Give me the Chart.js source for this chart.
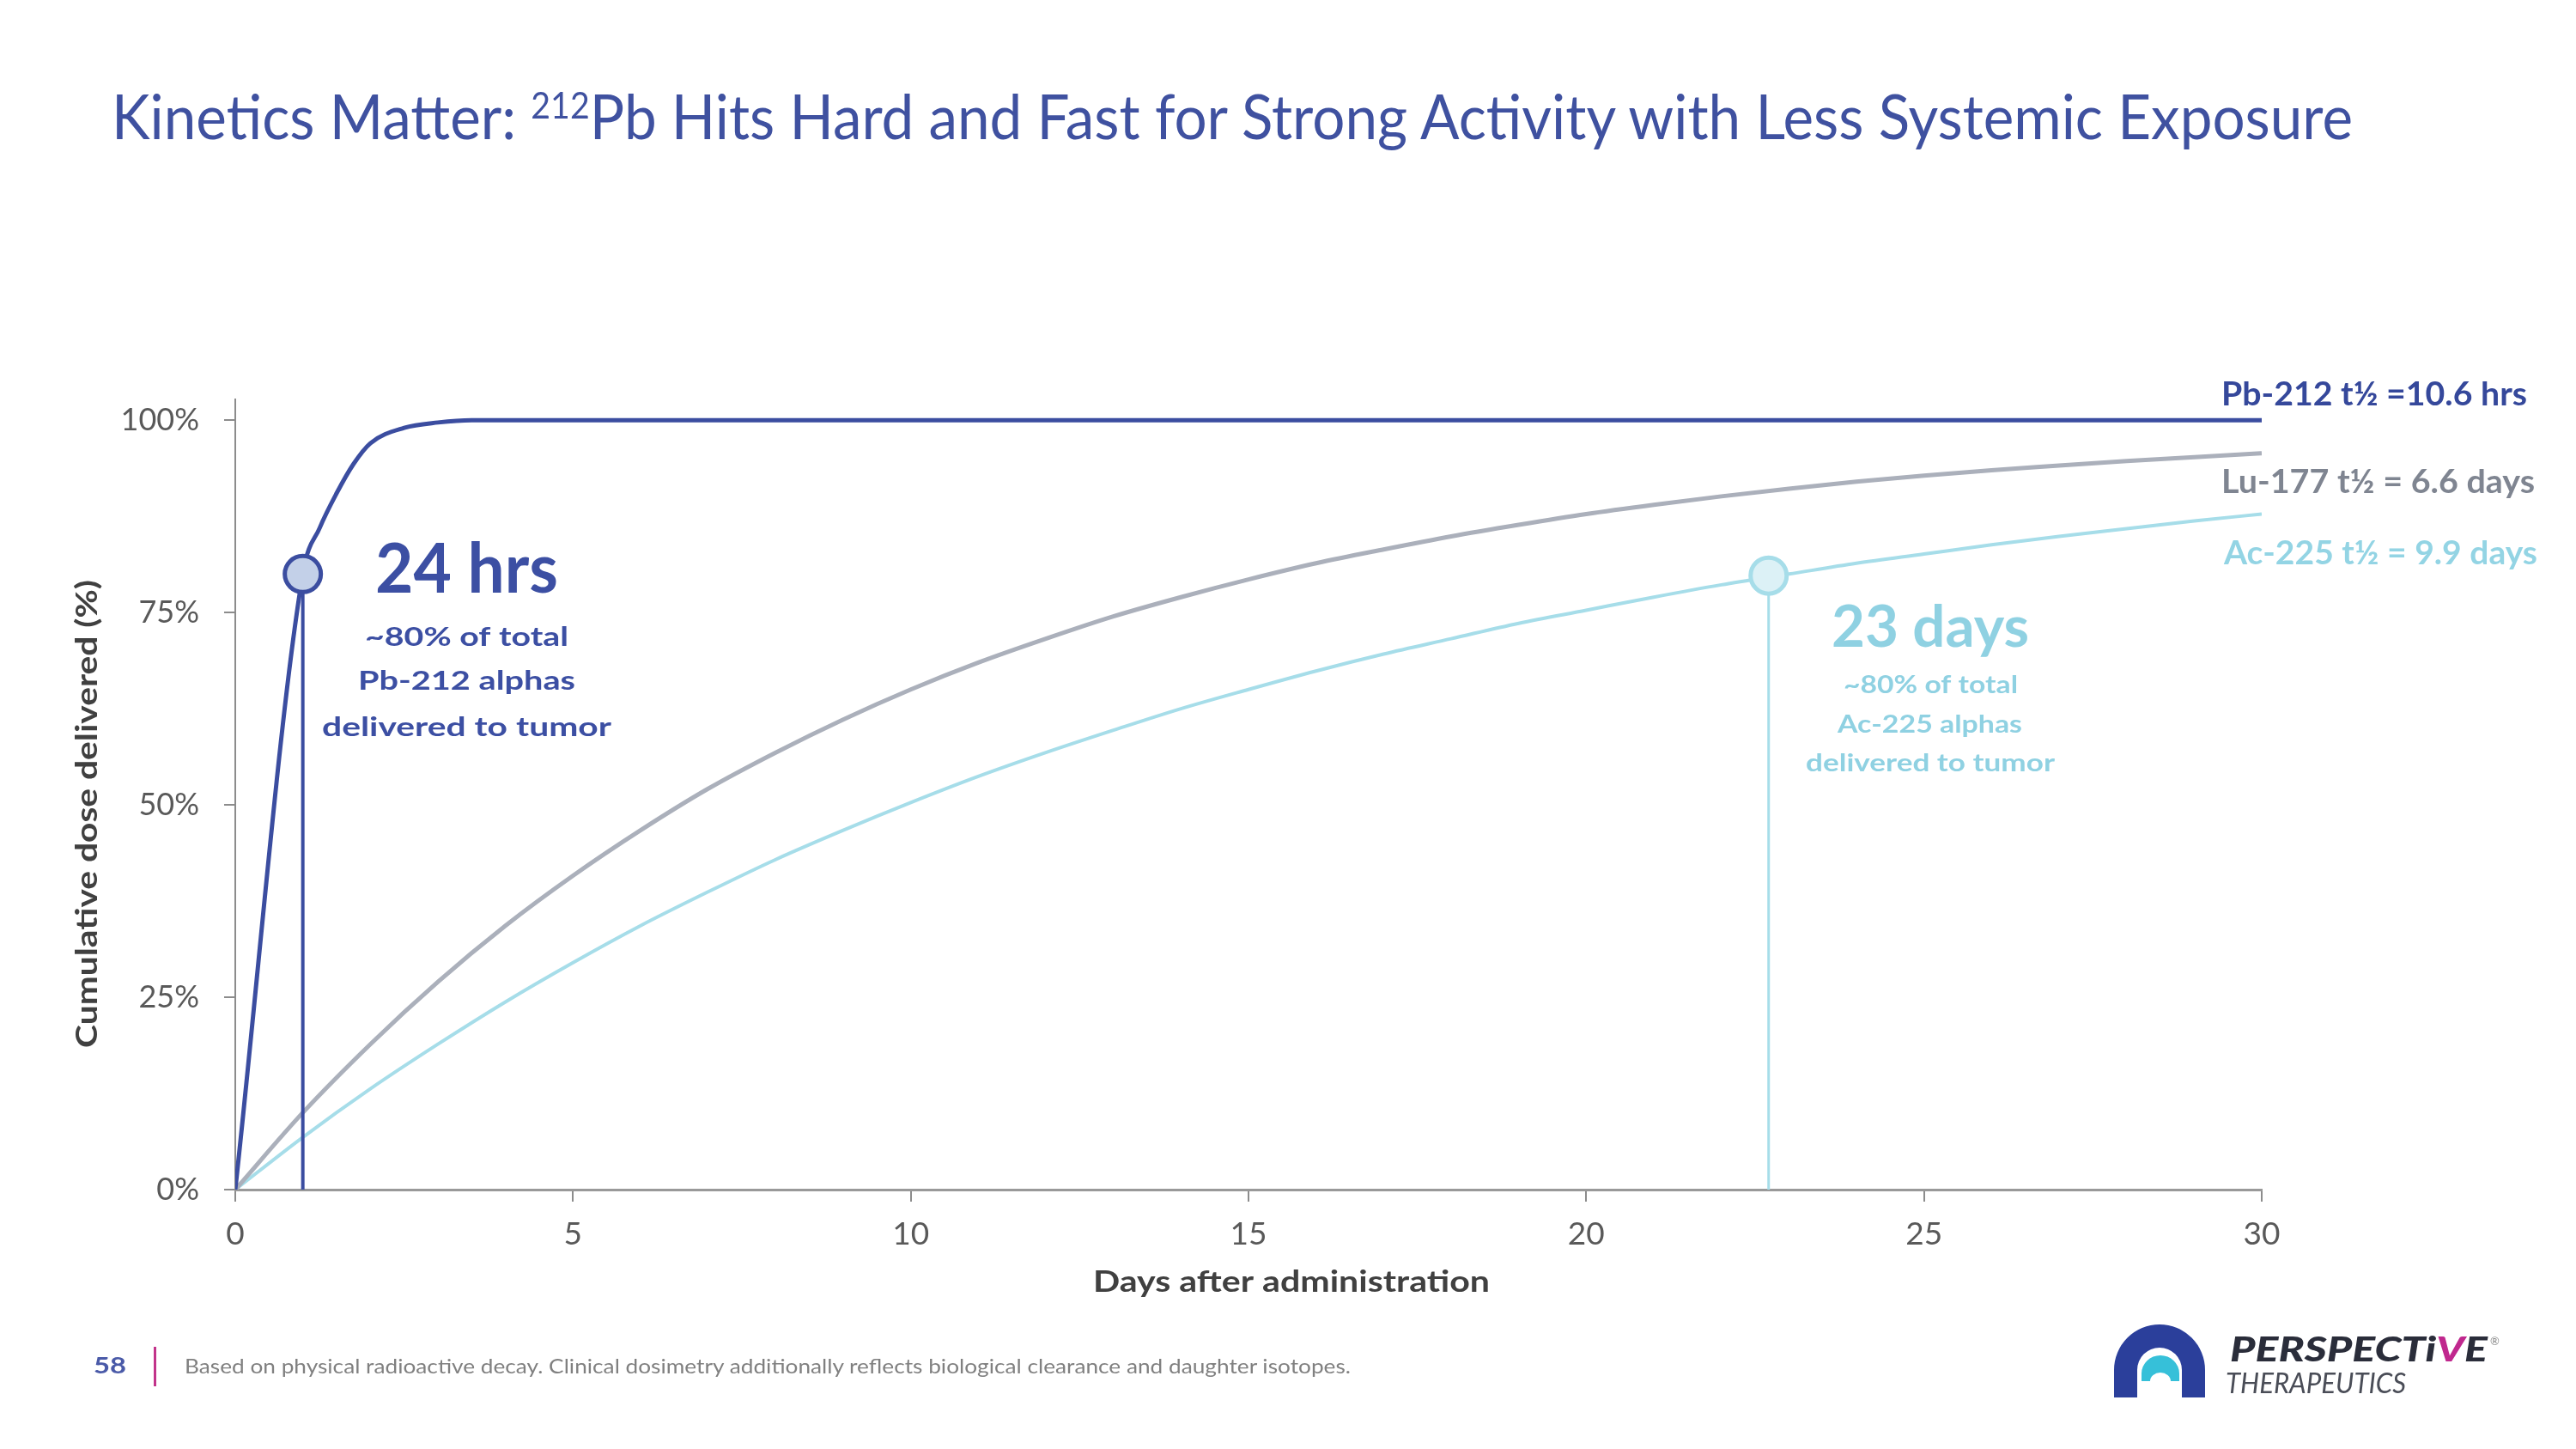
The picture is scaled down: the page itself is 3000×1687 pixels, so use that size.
<!DOCTYPE html>
<html>
<head>
<meta charset="utf-8">
<script src="https://cdn.jsdelivr.net/npm/chart.js@4.4.1/dist/chart.umd.min.js"></script>
<style>
  html, body { margin: 0; padding: 0; background: #fff; }
  #page { position: relative; width: 3000px; height: 1687px; overflow: hidden; background: #fff; }
  #chart, #overlay { position: absolute; left: 0; top: 0; }
</style>
</head>
<body>
<div id="page">
  <canvas id="chart" width="3000" height="1687"></canvas>
  <svg id="overlay" width="3000" height="1687" xmlns="http://www.w3.org/2000/svg" font-family="Lato, sans-serif">
    <text x="130" y="162" font-size="72" fill="#3f51a0" textLength="2610" lengthAdjust="spacingAndGlyphs">Kinetics Matter: <tspan dy="-24" font-size="42">212</tspan><tspan dy="24">Pb Hits Hard and Fast for Strong Activity with Less Systemic Exposure</tspan></text>

    <text x="109" y="1599" font-size="26" font-weight="bold" fill="#4a5aa8" textLength="38" lengthAdjust="spacingAndGlyphs">58</text>
    <rect x="179" y="1568" width="3" height="46" fill="#c2338a"/>
    <text x="215" y="1599" font-size="24" fill="#808080" textLength="1358" lengthAdjust="spacingAndGlyphs">Based on physical radioactive decay. Clinical dosimetry additionally reflects biological clearance and daughter isotopes.</text>

    <path d="M 2462 1627 L 2462 1595 A 53 53 0 0 1 2568 1595 L 2568 1627 L 2541 1627 L 2541 1595 A 26 26 0 0 0 2489 1595 L 2489 1627 Z" fill="#2b3f9b"/>
    <path d="M 2494 1608 L 2494 1599 A 22 21 0 0 1 2538 1599 L 2538 1608 L 2528 1608 A 12 10 0 0 0 2504 1608 Z" fill="#36c0d9"/>
    <text x="2597" y="1585" font-size="40" font-weight="900" font-style="italic" fill="#2a2d3a" textLength="300" lengthAdjust="spacingAndGlyphs">PERSPECTi<tspan fill="#c0288e">V</tspan>E</text>
    <text x="2900" y="1566" font-size="13" fill="#888">®</text>
    <text x="2592" y="1622" font-size="33" font-style="italic" fill="#4a4d57" textLength="210" lengthAdjust="spacingAndGlyphs">THERAPEUTICS</text>
  </svg>
</div>
<script>
// values
const pbDays = [0, 1, 1.25, 1.5, 1.75, 2, 2.5, 3, 3.5, 4, 5, 6, 8, 10, 15, 20, 25, 30]
const pbDose = [0, 80, 86, 90.5, 94.3, 97, 99, 99.7, 100, 100, 100, 100, 100, 100, 100, 100, 100, 100]

const days = [0, 1, 2, 3, 4, 5, 6, 7, 8, 9, 10, 11, 12, 13, 14, 15, 16, 17, 18, 19, 20, 21, 22, 23, 24, 25, 26, 27, 28, 29, 30]
const luDose = [0, 10.0, 18.9, 27.0, 34.3, 40.8, 46.7, 52.1, 56.8, 61.1, 65.0, 68.5, 71.6, 74.5, 77.0, 79.3, 81.4, 83.2, 84.9, 86.4, 87.8, 89.0, 90.1, 91.1, 92.0, 92.8, 93.5, 94.1, 94.7, 95.2, 95.7]
const acDose = [0, 6.8, 13.1, 18.9, 24.4, 29.5, 34.3, 38.7, 42.9, 46.7, 50.3, 53.7, 56.8, 59.7, 62.5, 65.0, 67.4, 69.6, 71.6, 73.6, 75.3, 77.0, 78.6, 80.0, 81.4, 82.6, 83.8, 84.9, 85.9, 86.9, 87.8]

// the two "80% delivered" call-outs: Pb-212, Ac-225
const calloutDays = [1, 22.7]
const calloutDose = [80, 79.8]

const yTicks = [0, 25, 50, 75, 100]

const PB = "#3b4da0"
const LU = "#abb0bb"
const AC = "#a6dde9"
const FONT = "Lato, sans-serif"

const pts = (xs, ys) => xs.map((x, i) => ({ x: x, y: ys[i] }))

// draw text squeezed/stretched to a measured width (slide font is narrower than Lato)
function fitText(ctx, text, left, base, width, font, color) {
  ctx.save()
  ctx.font = font
  ctx.fillStyle = color
  ctx.textAlign = "left"
  ctx.textBaseline = "alphabetic"
  const w = ctx.measureText(text).width
  ctx.translate(left, base)
  ctx.scale(width / w, 1)
  ctx.fillText(text, 0, 0)
  ctx.restore()
}

const labels = {
  id: "labels",
  afterDraw(chart) {
    const ctx = chart.ctx

    // Pb-212 call-out
    fitText(ctx, "24 hrs", 437, 690, 213, "bold 80px " + FONT, "#3c4fa3")
    fitText(ctx, "~80% of total", 425, 752, 237, "bold 31px " + FONT, "#3c4fa3")
    fitText(ctx, "Pb-212 alphas", 417, 803, 253, "bold 31px " + FONT, "#3c4fa3")
    fitText(ctx, "delivered to tumor", 375, 857, 337, "bold 31px " + FONT, "#3c4fa3")

    // Ac-225 call-out
    fitText(ctx, "23 days", 2133, 753, 230, "bold 67px " + FONT, "#8fd1e2")
    fitText(ctx, "~80% of total", 2147, 807, 203, "bold 28px " + FONT, "#8fd1e2")
    fitText(ctx, "Ac-225 alphas", 2140, 853, 215, "bold 28px " + FONT, "#8fd1e2")
    fitText(ctx, "delivered to tumor", 2103, 898, 290, "bold 28px " + FONT, "#8fd1e2")

    // series names at the line ends
    fitText(ctx, "Pb-212 t½ =10.6 hrs", 2587, 472, 356, "bold 38px " + FONT, "#35489b")
    fitText(ctx, "Lu-177 t½ = 6.6 days", 2587, 574, 365, "bold 38px " + FONT, "#7f8591")
    fitText(ctx, "Ac-225 t½ = 9.9 days", 2590, 657, 365, "bold 38px " + FONT, "#93d4e4")

    // axis titles
    fitText(ctx, "Days after administration", 1273, 1504, 462, "bold 34px " + FONT, "#404040")
    ctx.save()
    ctx.translate(113, 1220)
    ctx.rotate(-Math.PI / 2)
    fitText(ctx, "Cumulative dose delivered (%)", 0, 0, 545, "bold 34px " + FONT, "#404040")
    ctx.restore()
  }
}

new Chart(document.getElementById("chart"), {
  type: "line",
  data: {
    datasets: [{
        label: "Pb-212 80%",
        data: pts(calloutDays.slice(0, 1), calloutDose.slice(0, 1)),
        showLine: false,
        pointRadius: 21,
        pointBorderWidth: 5,
        pointBackgroundColor: "#c3d0e8",
        pointBorderColor: PB
      },
      {
        label: "Ac-225 80%",
        data: pts(calloutDays.slice(1), calloutDose.slice(1)),
        showLine: false,
        pointRadius: 21,
        pointBorderWidth: 5,
        pointBackgroundColor: "#dcf1f6",
        pointBorderColor: AC
      },
      {
        label: "Pb drop",
        data: pts([calloutDays[0], calloutDays[0]], [0, calloutDose[0]]),
        borderColor: PB,
        borderWidth: 4,
        pointRadius: 0
      },
      {
        label: "Ac drop",
        data: pts([calloutDays[1], calloutDays[1]], [0, calloutDose[1]]),
        borderColor: AC,
        borderWidth: 3,
        pointRadius: 0
      },
      {
        label: "Pb-212",
        data: pts(pbDays, pbDose),
        borderColor: PB,
        borderWidth: 5,
        pointRadius: 0,
        cubicInterpolationMode: "monotone"
      },
      {
        label: "Lu-177",
        data: pts(days, luDose),
        borderColor: LU,
        borderWidth: 5,
        pointRadius: 0,
        cubicInterpolationMode: "monotone"
      },
      {
        label: "Ac-225",
        data: pts(days, acDose),
        borderColor: AC,
        borderWidth: 4,
        pointRadius: 0,
        cubicInterpolationMode: "monotone"
      }
    ]
  },
  options: {
    responsive: false,
    devicePixelRatio: 1,
    animation: false,
    events: [],
    layout: {
      padding: { top: 465, left: 0, right: 366, bottom: 152 }
    },
    plugins: {
      legend: { display: false },
      title: { display: false },
      tooltip: { enabled: false }
    },
    scales: {
      x: {
        type: "linear",
        min: 0,
        max: 30,
        afterFit: s => { s.height = 150 },
        ticks: {
          stepSize: 5,
          color: "#595959",
          padding: 16,
          font: { family: FONT, size: 37 }
        },
        grid: { drawOnChartArea: false, tickLength: 14, color: "#8c8c8c", lineWidth: 2 },
        border: { color: "#999999", width: 3 }
      },
      y: {
        min: 0,
        max: 102.7,
        afterFit: s => { s.width = 274 },
        afterBuildTicks: s => { s.ticks = yTicks.map(v => ({ value: v })) },
        ticks: {
          color: "#595959",
          padding: 29,
          callback: v => v + "%",
          font: { family: FONT, size: 36 }
        },
        grid: { drawOnChartArea: false, tickLength: 13, color: "#8c8c8c", lineWidth: 2 },
        border: { color: "#8c8c8c", width: 2 }
      }
    }
  },
  plugins: [labels]
})
</script>
</body>
</html>
